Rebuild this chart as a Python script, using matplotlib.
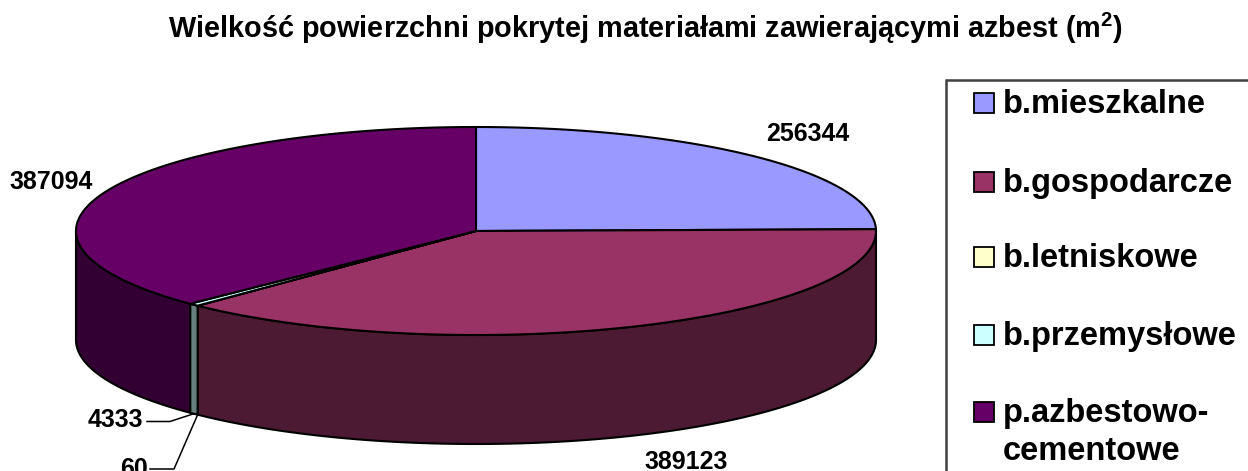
import numpy as np
import matplotlib
matplotlib.use("Agg")
import matplotlib.pyplot as plt
from matplotlib.patches import Polygon, Rectangle

plt.rcParams['font.family'] = ['Liberation Sans', 'DejaVu Sans']
plt.rcParams['mathtext.fontset'] = 'custom'
plt.rcParams['mathtext.bf'] = 'Liberation Sans:bold'

title = "Wielkość powierzchni pokrytej materiałami zawierającymi azbest (m$\\mathbf{^2}$)"
names = ["b.mieszkalne", "b.gospodarcze", "b.letniskowe", "b.przemysłowe", "p.azbestowo-\ncementowe"]
values = [256344, 389123, 60, 4333, 387094]
top_colors = ["#9999ff", "#993366", "#ffffcc", "#ccffff", "#660066"]
side_colors = ["#4d4d80", "#4d1a33", "#808066", "#668080", "#330033"]

cx, cy, rx, ry, depth = 476, 231, 400, 104, 109


def rim(a, b, drop=0):
    t = np.radians(np.linspace(a, b, 200))
    return np.column_stack([cx + rx * np.sin(t), cy - ry * np.cos(t) + drop])


fig = plt.figure(figsize=(12.48, 4.71), dpi=100)
ax = fig.add_axes([0, 0, 1, 1])
ax.set_xlim(0, 1248)
ax.set_ylim(471, 0)
ax.axis("off")

ax.text(645.5, 38, title, ha="center", va="baseline", fontsize=20.8, fontweight="bold")

# slice limits in degrees, clockwise from 12 o'clock
edges = np.concatenate([[0], np.cumsum(values)]) / sum(values) * 360

# walls first
for i in range(len(values)):
    a, b = max(edges[i], 90), min(edges[i + 1], 270)
    if b <= a:
        continue
    front = rim(a, b)
    back = rim(a, b, depth)[::-1]
    ax.add_patch(Polygon(np.vstack([front, back]), fc=side_colors[i], ec="black", lw=1.5, joinstyle="round"))

# top face
for i in range(len(values)):
    pts = np.vstack([[[cx, cy]], rim(edges[i], edges[i + 1])])
    ax.add_patch(Polygon(pts, fc=top_colors[i], ec="black", lw=1.5, joinstyle="round"))

# data labels
lab = dict(ha="center", va="baseline", fontsize=18, fontweight="bold")
ax.text(808, 141, str(values[0]), **lab)
ax.text(686, 469, str(values[1]), **lab)
ax.text(51.5, 189, str(values[4]), **lab)
ax.text(115.5, 427, str(values[3]), **lab)
ax.text(134, 476, str(values[2]), **lab)

# leader lines for the two thin slices
tip = rim(edges[3], edges[4], depth)[100]
ax.plot([147, 170, tip[0]], [421.5, 421.5, tip[1]], color="black", lw=1.1)
tip = rim(edges[2], edges[3], depth)[100]
ax.plot([150, 174, tip[0]], [469, 469, tip[1]], color="black", lw=1.1)

# legend
ax.add_patch(Rectangle((946, 80), 320, 420, fc="white", ec="#404040", lw=1.8))
baselines = [113, 192, 267, 345, 422]
for name, col, y in zip(names, top_colors, baselines):
    ax.add_patch(Rectangle((974, y - 20), 20, 20, fc=col, ec="black", lw=1.3))
    parts = name.split("\n")
    ax.text(1003, y, parts[0], va="baseline", fontsize=23.5, fontweight="bold")
    if len(parts) > 1:
        ax.text(1003, y + 37.5, parts[1], va="baseline", fontsize=23.5, fontweight="bold")

fig.savefig("out.png", dpi=100)
